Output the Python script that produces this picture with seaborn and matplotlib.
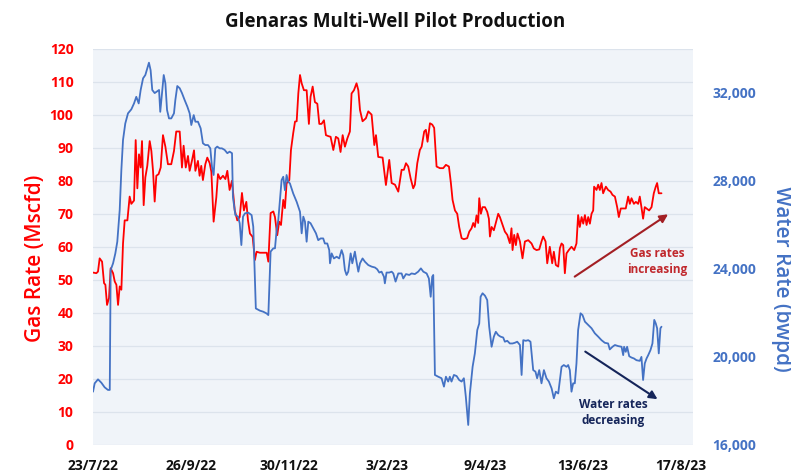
import matplotlib
matplotlib.use("Agg")
import matplotlib.pyplot as plt
import matplotlib.ticker as mticker
import seaborn as sns
import pandas as pd

# Start of the pilot, and date tick labels along the x axis
start_date = "2022-07-23"
date_labels = ["23/7/22", "26/9/22", "30/11/22", "3/2/23", "9/4/23", "13/6/23", "17/8/23"]

# Gas rate (Mscfd), days since start
gas_day = [0, 2.2, 3.3, 4.4, 6.0, 7.3, 8.2, 9.3, 10.6, 11.7, 13.3, 14.4, 15.5, 16.6, 17.7,
           18.8, 19.9, 21.0, 22.8, 24.3, 25.4, 27.2, 28.3, 29.4, 30.5, 31.6, 32.5, 33.6, 34.7,
           36.0, 37.6, 38.7, 39.8, 40.9, 42.0, 43.5, 44.9, 46.4, 48.0, 49.7, 51.9, 53.7, 55.2,
           57.5, 59.0, 60.1, 61.5, 63.0, 64.1, 65.6, 67.0, 67.9, 69.6, 70.7, 71.8, 72.9, 74.5,
           75.8, 77.4, 78.5, 80.0, 81.8, 82.9, 84.4, 86.2, 87.8, 89.1, 90.6, 92.2, 94.0, 95.7,
           97.3, 98.8, 100.1, 101.7, 102.8, 104.1, 105.9, 107.4, 108.5, 110.7, 113.0, 115.2,
           116.3, 117.8, 119.6, 120.7, 122.2, 123.5, 124.7, 126.2, 127.3, 128.4, 130.2, 131.3,
           132.8, 134.0, 135.1, 136.2, 137.3, 138.4, 139.9, 141.7, 143.2, 144.3, 145.7, 147.2,
           148.8, 150.1, 151.6, 153.2, 154.5, 156.1, 157.6, 159.4, 161.1, 162.7, 164.2, 165.6,
           167.1, 168.7, 170.4, 171.5, 173.1, 174.8, 176.0, 177.1, 178.8, 181.0, 182.6, 184.8,
           186.6, 187.7, 189.2, 192.1, 194.3, 196.5, 198.1, 200.3, 202.5, 204.7, 206.2, 207.6,
           209.1, 210.7, 212.4, 213.5, 215.1, 216.8, 218.0, 219.7, 220.8, 221.9, 223.5, 225.0,
           226.3, 227.9, 230.1, 232.3, 234.1, 236.1, 237.4, 238.5, 240.1, 241.6, 242.9, 244.5,
           246.0, 248.2, 249.6, 251.1, 252.2, 253.3, 254.4, 255.5, 256.2, 257.3, 258.4, 260.0,
           261.5, 262.6, 263.3, 264.4, 265.9, 267.2, 268.8, 269.9, 271.7, 273.2, 274.8, 276.5,
           277.6, 278.3, 279.4, 280.5, 281.6, 283.2, 284.9, 286.5, 288.7, 290.9, 292.4, 294.2,
           296.0, 297.5, 298.6, 300.2, 301.3, 303.0, 304.6, 305.7, 307.0, 308.6, 309.7, 310.8,
           311.9, 313.0, 314.1, 315.6, 317.4, 319.2, 320.7, 321.8, 322.9, 324.1, 325.2, 326.3,
           327.4, 328.5, 329.6, 330.7, 331.8, 332.4, 334.0, 335.1, 336.2, 337.3, 338.4, 340.2,
           341.7, 343.3, 344.6, 346.2, 347.7, 348.8, 350.1, 351.7, 353.4, 355.0, 356.1, 357.2,
           358.8, 360.1, 361.6, 362.7, 363.8, 364.9, 366.0, 367.2, 368.9, 370.5, 372.0, 373.3,
           374.2, 375.3, 377.1]
gas_rate = [52.2, 52, 52.5, 56.5, 55.5, 49, 48.5, 42.4, 44.5, 53.5, 52, 49.5, 48.5, 42.4, 48,
            47, 61, 68, 68, 75.2, 73, 74, 92.3, 77.7, 88, 84, 92, 72.6, 81,
            84.5, 92, 89, 83, 73.7, 81.5, 82, 84, 93.8, 90.3, 85, 85, 89, 94.9,
            94.9, 84, 90.6, 84, 87.5, 83, 86, 89.2, 83, 86, 81.5, 84.5, 80.2, 85,
            87, 85.3, 82.7, 67.6, 75, 82, 80.5, 81.5, 80.5, 83, 77.2, 80, 71.1, 68,
            69, 76.3, 71, 73.6, 68, 64, 63, 56, 58.5, 58.2, 58.2, 58.2,
            55.5, 70.2, 70.7, 69, 63.5, 67.6, 66.6, 74.2, 71.7, 79.2, 80.2, 89.3,
            94.4, 97.9, 98, 106.5, 112, 109.5, 107.4, 107.4, 97.2, 105.4, 108.5, 103.8,
            103.3, 97.2, 97.2, 98.3, 93.8, 93.5, 93.3, 89.3, 93.3, 92.8, 88.7, 93.8,
            90.3, 92.8, 94.9, 106.4, 107.4, 109.5, 107.4, 101.4, 98, 98.9, 101, 100,
            90.8, 93.8, 87.2, 87, 78.7, 86.3, 79.3, 78.8, 76.7, 83.3, 83.3, 85.3,
            84.3, 80.7, 77.7, 78.8, 85.3, 89.3, 90.3, 94.9, 95.4, 91.8, 97.4, 97,
            96, 84.3, 83.8, 83.8, 84.8, 84.3, 79.3, 74.2, 71, 70, 66, 62.6,
            62.3, 62.6, 64.6, 65.6, 67.2, 66, 69.5, 67.2, 74.7, 70, 72, 72,
            70.6, 68.5, 63.1, 66, 65, 67.2, 70, 69, 66.6, 64.6, 63.6, 61.1,
            65.6, 59, 63.6, 60.5, 64, 61.6, 56.5, 61.6, 62, 61, 59.5, 59,
            59.2, 61.6, 63.1, 61.6, 55, 60, 55, 58.5, 54.5, 54, 59.6, 61,
            60.5, 52, 58, 59, 60, 59, 61, 69.6, 66, 69, 67, 69.6,
            66.6, 69, 67, 70, 71, 78.2, 77.2, 78.8, 77.2, 79.3, 76.2, 78.2,
            77.2, 76.7, 75.7, 75.2, 72, 69, 71.6, 71.6, 71.6, 75.2, 73, 74.7,
            73, 73.6, 73, 75.2, 72, 68.5, 72, 71.6, 71, 72, 76.2, 78.2,
            79.3, 76.2, 76.2]

# Water rate (bwpd), days since start
water_day = [0, 1.1, 3.3, 5.5, 7.7, 9.9, 11.1, 11.7, 13.3, 14.8, 16.1, 17.7, 18.8, 19.9, 21.4,
             23.2, 25.4, 27.2, 28.7, 30.3, 31.6, 33.2, 34.7, 36.0, 37.1, 38.2, 39.3, 40.9, 42.4,
             43.8, 44.6, 45.8, 46.9, 48.0, 49.1, 50.4, 51.9, 53.7, 54.6, 55.9, 57.5, 59.0, 60.8,
             62.6, 64.1, 65.2, 66.8, 67.9, 69.6, 71.4, 72.9, 74.5, 76.3, 77.8, 78.9, 80.0, 81.1,
             82.4, 84.0, 85.5, 87.3, 89.1, 90.6, 92.2, 92.8, 94.4, 96.2, 97.3, 98.4, 99.5, 100.8,
             103.0, 105.2, 106.3, 108.0, 110.7, 113.0, 115.2, 116.3, 117.8, 119.6, 120.7, 121.8,
             122.9, 124.0, 125.1, 126.2, 127.3, 128.4, 129.5, 130.6, 132.8, 135.1, 137.3, 138.4,
             139.5, 140.6, 141.7, 142.8, 144.3, 146.1, 147.9, 149.4, 151.0, 152.7, 153.8, 155.4,
             156.7, 157.2, 158.3, 159.8, 161.6, 163.3, 164.9, 166.0, 167.1, 168.2, 169.3, 170.9,
             172.0, 173.7, 174.8, 176.0, 177.1, 178.8, 180.4, 182.6, 184.8, 187.0, 188.5, 189.9,
             191.4, 193.0, 193.6, 194.7, 196.5, 198.1, 199.2, 200.7, 202.5, 204.7, 205.8, 207.6,
             209.8, 211.3, 213.5, 215.7, 217.5, 219.1, 221.3, 222.8, 224.0, 225.0, 225.7, 226.8,
             229.0, 231.2, 232.8, 234.1, 235.6, 236.7, 237.8, 239.4, 241.2, 242.9, 244.5, 246.0,
             247.3, 248.9, 250.0, 251.8, 253.3, 254.9, 256.2, 257.1, 258.4, 260.0, 261.5, 262.8,
             264.4, 265.9, 267.2, 268.8, 270.3, 272.1, 273.2, 274.8, 276.5, 278.3, 279.8, 281.4,
             283.2, 284.3, 285.4, 287.1, 288.7, 290.2, 292.0, 293.5, 294.6, 296.0, 297.5, 299.1,
             300.8, 302.4, 304.2, 305.7, 307.0, 308.6, 309.7, 310.8, 312.3, 314.1, 315.2, 316.3,
             317.4, 318.5, 319.6, 320.7, 321.8, 323.4, 324.7, 326.3, 328.5, 330.7, 332.9, 335.1,
             337.3, 339.5, 341.7, 342.8, 344.6, 346.2, 348.4, 350.6, 351.7, 352.3, 353.4, 354.3,
             355.7, 357.2, 358.8, 360.5, 362.7, 363.8, 364.9, 366.0, 367.2, 368.3, 369.8, 371.1,
             372.3, 373.3, 374.2, 375.3, 376.4, 377.1]
water_rate = [18420, 18800, 18980, 18830, 18620, 18500, 18500, 23945, 24250, 24700, 25230, 26670,
              28490, 29850, 30600, 31060, 31240, 31510, 31810, 31510, 32120, 32650, 32800, 33100,
              33360, 33020, 32120, 31980, 32050, 32120, 31130, 31980, 32800, 32420, 31210, 30830,
              30830, 31060, 31660, 32300, 32200, 31980, 31660, 31360, 31060, 30530, 30980, 30680,
              30680, 30380, 29700, 29620, 29620, 29470, 28630, 28260, 29470, 29550, 29470, 29470,
              29400, 29250, 29320, 29250, 27270, 26440, 26370, 26070, 25080, 26370, 26520, 26550,
              26440, 25910, 22200, 22100, 22050, 21970, 21900, 24780, 24930, 24930, 25760, 26220,
              27120, 28030, 28180, 27570, 28260, 27950, 27880, 27420, 27040, 26590, 25610, 26370,
              26140, 25230, 26140, 26070, 25840, 25610, 25300, 25380, 25380, 25150, 25150, 24850,
              24250, 24700, 24470, 24550, 24470, 24850, 24620, 23945, 23720, 23870, 24700, 24250,
              24780, 24320, 23870, 24250, 24470, 24320, 24170, 24100, 24060, 23980, 23830, 23870,
              23640, 23340, 23830, 23830, 23870, 23790, 23420, 23790, 23790, 23560, 23760, 23720,
              23790, 23760, 23870, 24020, 23870, 23790, 23560, 22730, 23640, 23720, 19180, 19100,
              19030, 18650, 19100, 18880, 19100, 18880, 19180, 19130, 18950, 18880, 19030, 18190,
              16910, 18340, 19550, 20160, 21220, 21520, 22730, 22890, 22780, 22580, 21370, 20460,
              20920, 21140, 20990, 20920, 20880, 20690, 20730, 20610, 20610, 20640, 20690, 20540,
              19180, 20760, 20730, 20760, 20690, 19400, 19330, 19030, 19400, 18800, 19400, 19030,
              18880, 18570, 18120, 18420, 18340, 18950, 19550, 19630, 19550, 19630, 19400, 18420,
              18800, 18800, 19700, 21220, 21980, 21900, 21600, 21450, 21300, 21070, 20920, 20760,
              20640, 20610, 20340, 20460, 20540, 20490, 20460, 20080, 20460, 20230, 20460, 20030,
              19970, 19930, 19850, 19820, 20000, 18950, 19700, 19930, 20080, 20310, 20610, 21680,
              21520, 21300, 20160, 21300, 21370]

GAS_RED = "#ff0000"
WATER_BLUE = "#4472c4"

t0 = pd.Timestamp(start_date)
gas = pd.DataFrame({"date": t0 + pd.to_timedelta(gas_day, unit="D"), "rate": gas_rate})
water = pd.DataFrame({"date": t0 + pd.to_timedelta(water_day, unit="D"), "rate": water_rate})
tick_dates = pd.to_datetime(date_labels, format="%d/%m/%y")

sns.set_theme(style="white")
plt.rcParams["font.family"] = ["Open Sans", "DejaVu Sans"]

fig = plt.figure(figsize=(7.91, 4.75), dpi=100)
ax = fig.add_axes([0.1176, 0.0632, 0.7585, 0.8345])
ax.set_facecolor("#f0f4f9")

sns.lineplot(data=gas, x="date", y="rate", ax=ax, color=GAS_RED, linewidth=1.3, errorbar=None)

ax2 = ax.twinx()
sns.lineplot(data=water, x="date", y="rate", ax=ax2, color=WATER_BLUE, linewidth=1.3, errorbar=None)

# x axis
ax.set_xlim(t0, tick_dates[-1] + pd.Timedelta(days=8))
ax.set_xticks(tick_dates)
ax.set_xticklabels(date_labels, fontsize=10, fontweight="bold", color="#111111")
ax.tick_params(axis="x", length=0, pad=10)
ax.set_xlabel("")

# left axis: gas
ax.set_ylim(0, 120)
ax.yaxis.set_major_locator(mticker.MultipleLocator(10))
ax.tick_params(axis="y", length=0, pad=14, labelsize=10, labelcolor=GAS_RED)
for lab in ax.get_yticklabels():
    lab.set_fontweight("bold")
ax.set_ylabel("Gas Rate (Mscfd)", color=GAS_RED, fontsize=15, fontweight="semibold")
ax.yaxis.set_label_coords(-0.096, 0.472)
ax.yaxis.label.set_verticalalignment("center")
ax.grid(axis="y", color="#dce3ec", linewidth=0.9)
ax.grid(axis="x", visible=False)

# right axis: water
ax2.set_ylim(16000, 34000)
ax2.set_yticks([16000, 20000, 24000, 28000, 32000])
ax2.yaxis.set_major_formatter(mticker.FuncFormatter(lambda v, p: f"{v:,.0f}"))
ax2.tick_params(axis="y", length=0, pad=14, labelsize=10, labelcolor=WATER_BLUE)
for lab in ax2.get_yticklabels():
    lab.set_fontweight("bold")
ax2.set_ylabel("Water Rate (bwpd)", color=WATER_BLUE, fontsize=15, fontweight="semibold",
               rotation=270)
ax2.yaxis.set_label_coords(1.148, 0.42)
ax2.yaxis.label.set_verticalalignment("center")
ax2.yaxis.label.set_horizontalalignment("center")
ax2.grid(False)

for a in (ax, ax2):
    for s in a.spines.values():
        s.set_visible(False)

# trend annotations
ax.annotate("", xy=(t0 + pd.Timedelta(days=383), 70.3), xytext=(t0 + pd.Timedelta(days=318), 50.5),
            arrowprops=dict(arrowstyle="-|>", color="#a31f24", lw=1.5, mutation_scale=12))
ax.text(t0 + pd.Timedelta(days=374), 55.4, "Gas rates\nincreasing", color="#c0282d",
        fontsize=8.5, fontweight="bold", ha="center", va="center", linespacing=1.3)
ax2.annotate("", xy=(t0 + pd.Timedelta(days=376), 18010), xytext=(t0 + pd.Timedelta(days=325), 20310),
             arrowprops=dict(arrowstyle="-|>", color="#15255a", lw=1.5, mutation_scale=12))
ax2.text(t0 + pd.Timedelta(days=345), 17475, "Water rates\ndecreasing", color="#15255a",
         fontsize=8.5, fontweight="bold", ha="center", va="center", linespacing=1.3)

fig.suptitle("Glenaras Multi-Well Pilot Production", x=0.5, y=0.975, fontsize=13.5,
             fontweight="bold", color="#111111")

fig.savefig("out.png", dpi=100)
